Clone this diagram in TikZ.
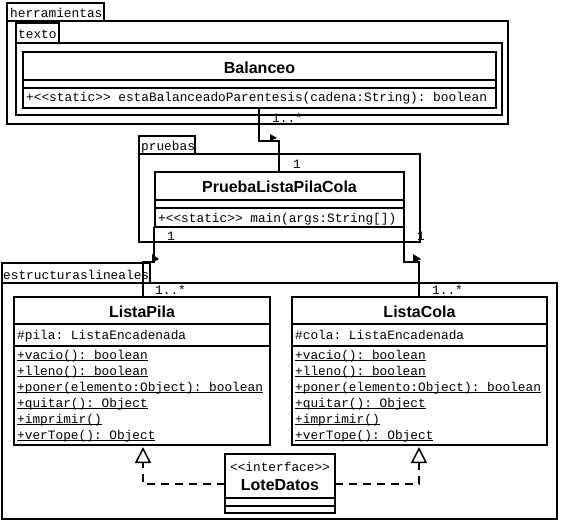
\documentclass[tikz,border=0pt]{standalone}
\usepackage{fontspec}
\setmainfont{Liberation Sans}
\newfontfamily\monof{Liberation Mono}
\usetikzlibrary{arrows.meta}
\frenchspacing
\newcommand\dlt{\char`<\kern0pt\char`<}
\newcommand\dgt{\char`>\kern0pt\char`>}
\newcommand\umeth[1]{\setbox0\hbox{#1}\rlap{\rule[-2pt]{\wd0}{0.9pt}}\box0}
\tikzset{
  box/.style={draw, line width=2pt, fill=white, inner sep=0pt, outer sep=0pt, anchor=north west},
  mono/.style={font=\monof\frenchspacing\fontsize{12.8}{14}\selectfont, inner sep=0pt},
  txt/.style={mono, anchor=base west},
  ctxt/.style={mono, anchor=base},
  cname/.style={font=\bfseries\fontsize{16}{18}\selectfont, inner sep=0pt, anchor=base},
  sep/.style={line width=2pt},
  assoc/.style={line width=2pt},
  navtip/.style={fill=black},
  real/.style={line width=2pt, dash pattern=on 8pt off 6pt, shorten >=2pt,
    -{Triangle[open, width=16pt, length=16pt, line width=1.5pt]}}
}
\begin{document}
\begin{tikzpicture}[x=1pt, y=-1pt]
\useasboundingbox (0,0) rectangle (562,522);
% ---------- package herramientas
\node[box, minimum width=501pt, minimum height=103pt] (herrB) at (7,21) {};
\node[box, minimum width=97pt, minimum height=18pt] (herrT) at (7,3) {};
\node[txt] (herrL) at (10,17) {herramientas};
% ---------- package texto
\node[box, minimum width=486pt, minimum height=72pt] (textoB) at (16,43) {};
\node[box, minimum width=43pt, minimum height=20pt] (textoT) at (16,23) {};
\node[txt] (textoL) at (18,38) {texto};
% ---------- class Balanceo
\node[box, minimum width=473pt, minimum height=56pt] (bal) at (23,52) {};
\draw[sep] ([yshift=-28pt]bal.north west) -- ([yshift=-28pt]bal.north east);
\draw[sep] ([yshift=-36pt]bal.north west) -- ([yshift=-36pt]bal.north east);
\node[cname] (balN) at (259.5,73) {Balanceo};
\node[txt] (balM) at (26,101) {+\dlt static\dgt{} estaBalanceadoParentesis(cadena:String): boolean};
% ---------- package pruebas
\node[box, minimum width=281pt, minimum height=88pt] (pruB) at (139,154) {};
\node[box, minimum width=56pt, minimum height=18pt] (pruT) at (139,136) {};
\node[txt] (pruL) at (141,150) {pruebas};
% ---------- class PruebaListaPilaCola
\node[box, minimum width=249pt, minimum height=55pt] (prueba) at (155,172) {};
\draw[sep] ([yshift=-28pt]prueba.north west) -- ([yshift=-28pt]prueba.north east);
\draw[sep] ([yshift=-36pt]prueba.north west) -- ([yshift=-36pt]prueba.north east);
\node[cname] (pruebaN) at (279.5,192) {PruebaListaPilaCola};
\node[txt] (pruebaM) at (158,222) {+\dlt static\dgt{} main(args:String[])};
% ---------- package estructuraslineales
\node[box, minimum width=555pt, minimum height=236pt] (estB) at (2,283) {};
\node[box, minimum width=148pt, minimum height=20pt] (estT) at (2,263) {};
\node[txt] (estL) at (3,279) {estructuraslineales};
% ---------- class ListaPila
\node[box, minimum width=256pt, minimum height=148pt] (pila) at (14,297) {};
\draw[sep] ([yshift=-27pt]pila.north west) -- ([yshift=-27pt]pila.north east);
\draw[sep] ([yshift=-49pt]pila.north west) -- ([yshift=-49pt]pila.north east);
\node[cname] (pilaN) at (142,317) {ListaPila};
\node[txt] (pilaA) at (17,339) {\#pila: ListaEncadenada};
% ---------- class ListaCola
\node[box, minimum width=255pt, minimum height=148pt] (cola) at (292,297) {};
\draw[sep] ([yshift=-27pt]cola.north west) -- ([yshift=-27pt]cola.north east);
\draw[sep] ([yshift=-49pt]cola.north west) -- ([yshift=-49pt]cola.north east);
\node[cname] (colaN) at (419.5,317) {ListaCola};
\node[txt] (colaA) at (295,339) {\#cola: ListaEncadenada};
% methods
\foreach \t [count=\i] in {{+vacio(): boolean},{+lleno(): boolean},{+poner(elemento:Object): boolean},{+quitar(): Object},{+imprimir()},{+verTope(): Object}}{
  \node[txt] (pm\i) at (17,343+16*\i) {\umeth{\t}};
  \node[txt] (cm\i) at (295,343+16*\i) {\umeth{\t}};
}
% ---------- interface LoteDatos
\node[box, minimum width=110pt, minimum height=59pt] (lote) at (225,454) {};
\draw[sep] ([yshift=-44pt]lote.north west) -- ([yshift=-44pt]lote.north east);
\draw[sep] ([yshift=-52pt]lote.north west) -- ([yshift=-52pt]lote.north east);
\node[ctxt] (loteS) at (280,471) {\dlt interface\dgt};
\node[cname] (loteN) at (280,490) {LoteDatos};
% ---------- associations
\coordinate (j1) at (259,141);
\coordinate (j2) at (279,141);
\draw[assoc] (bal.south -| j1) -- (j1) -- (j2) -- (prueba.north -| j2);
\fill[navtip] (270,134) -- (277,138) -- (270,141) -- cycle;
\node[txt] (l1) at (272,122) {1..*};
\node[txt] (l2) at (293,168) {1};
\coordinate (k1) at (154,262);
\coordinate (k2) at (143,262);
\draw[assoc] (prueba.south -| k1) -- (k1) -- (k2) -- (pila.north -| k2);
\fill[navtip] (152,254) -- (159,259) -- (152,263) -- cycle;
\node[txt] (l3) at (167,240) {1};
\node[txt] (l4) at (155,294) {1..*};
\coordinate (m1) at (404,262);
\coordinate (m2) at (419,262);
\draw[assoc] (prueba.south -| m1) -- (m1) -- (m2) -- (cola.north -| m2);
\fill[navtip] (413,254) -- (421,259) -- (413,263) -- cycle;
\node[txt] (l5) at (417,240) {1};
\node[txt] (l6) at (432,294) {1..*};
% ---------- realizations
\coordinate (r1) at (143,483.5);
\coordinate (r2) at (419,483.5);
\draw[real] (lote.west) -- (r1) -- (pila.south -| r1);
\draw[real] (lote.east) -- (r2) -- (cola.south -| r2);
\end{tikzpicture}
\end{document}
